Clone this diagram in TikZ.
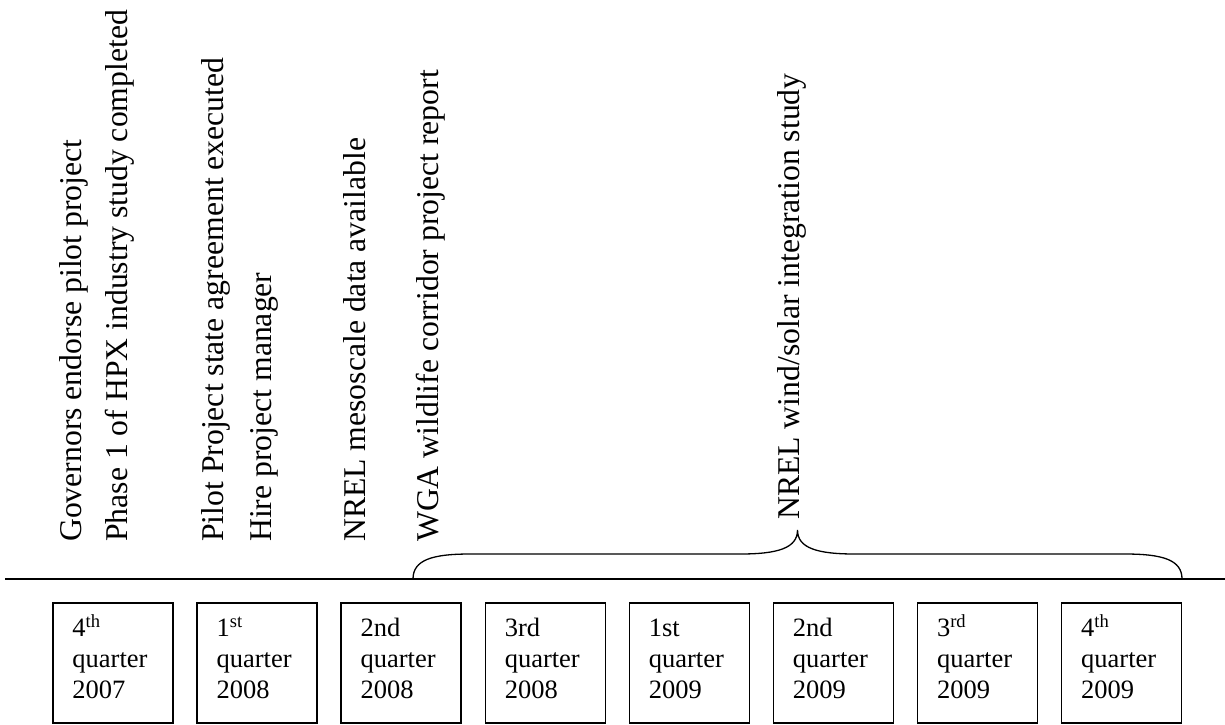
\documentclass[tikz,border=0pt]{standalone}
\usepackage{fontspec}
\setmainfont{Liberation Serif}
\begin{document}
\begin{tikzpicture}[x=1pt,y=-1pt,
  qbox/.style={draw,line width=1.5pt,minimum width=120pt,minimum height=120pt,inner sep=0pt},
  qtext/.style={anchor=north west,inner sep=0pt,align=left,font=\fontsize{26.5}{31}\selectfont},
  evt/.style={rotate=90,anchor=base west,inner sep=0pt,font=\fontsize{31.7}{38}\selectfont},
  rule/.style={line width=1.3pt},
  bracestyle/.style={line width=1.3pt}]
\useasboundingbox (0,0) rectangle (1225,724);

% event labels
\node[evt] (e1) at (81,542) {Governors endorse pilot project};
\node[evt] (e2) at (127,542) {Phase 1 of HPX industry study completed};
\node[evt] (e3) at (223,542) {Pilot Project state agreement executed};
\node[evt] (e4) at (271,542) {Hire project manager};
\node[evt] (e5) at (365,542) {NREL mesoscale data available};
\node[evt] (e6) at (438,542) {WGA wildlife corridor project report};
\node[evt] (e7) at (799,520) {NREL wind/solar integration study};

% timeline rule
\coordinate (l0) at (5,579);
\coordinate (l1) at (1225,579);
\draw[rule] (l0) -- (l1);

% brace
\coordinate (bl) at (413,579);
\coordinate (br) at (1182,579);
\coordinate (bt) at (797.5,530);
\draw[bracestyle] (bl) .. controls (413,560) and (432,554) .. (470,554)
  -- (740,554) .. controls (778,554) and (797.5,548) .. (bt)
  .. controls (797.5,548) and (817,554) .. (855,554)
  -- (1125,554) .. controls (1163,554) and (1182,560) .. (br);

% quarter boxes
\foreach \i/\a/\b in {0/{4\textsuperscript{th}}/2007,
                      1/{1\textsuperscript{st}}/2008,
                      2/{2nd}/2008,
                      3/{3rd}/2008,
                      4/{1st}/2009,
                      5/{2nd}/2009,
                      6/{3\textsuperscript{rd}}/2009,
                      7/{4\textsuperscript{th}}/2009}{
  \node[qbox] (b\i) at (113+144.1*\i,663) {};
  \node[qtext] (t\i) at ([shift={(20,12.3)}]b\i.north west)
    {\strut\a\\\strut quarter\\\strut\b};
}
\end{tikzpicture}
\end{document}
